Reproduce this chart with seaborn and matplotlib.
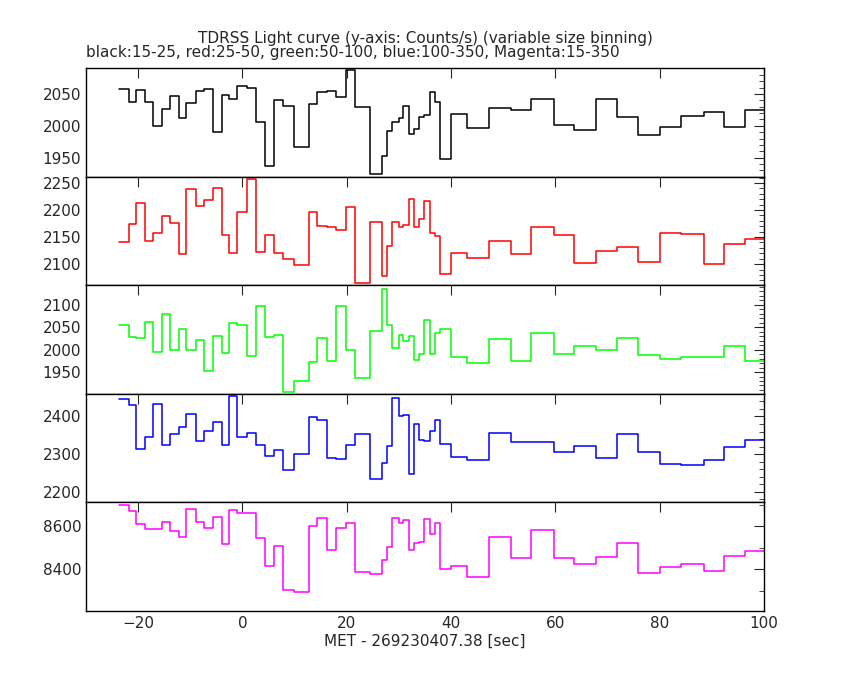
import matplotlib
matplotlib.use("Agg")
import matplotlib.pyplot as plt
import seaborn as sns
import pandas as pd
from matplotlib.ticker import MultipleLocator

edges = [-23.6,-21.8,-20.4,-18.6,-17.1,-15.5,-13.8,-12.2,-10.8,-9.0,-7.4,-5.7,-4.0,-2.5,-1.0,0.8,2.5,4.4,6.1,7.7,
         9.9,12.7,14.3,16.2,18.0,19.9,21.6,24.4,26.8,27.8,28.7,30.0,30.8,31.9,32.9,33.9,34.9,36.0,37.0,37.9,
         39.9,43.1,47.3,51.4,55.4,59.7,63.6,67.8,71.9,75.9,80.1,84.1,88.4,92.4,96.4,100.5]

black = [2057.8,2037.5,2056.3,2036.5,2000,2026.6,2046.9,2012.5,2035.9,2054.7,2057.8,1989.6,2048.4,2042.2,2062.5,
         2059.4,2005.2,1937.5,2040.6,2031.3,1967.2,2034.9,2053.1,2054.7,2045.3,2087.5,2029.7,1925,1953.1,1991.1,
         2006.3,2012.5,2031.3,1987.5,1995.3,2014.1,2017.2,2053.1,2036.5,1947.4,2017.7,
         1996.9,2028.1,2025,2042.2,2001.6,1993.8,2042.2,2014.1,1985.9,1998.4,2015.6,2021.9,1998.4,2025]
red = [2140.7,2174.1,2213.0,2142.6,2157.4,2189.5,2175.9,2119.1,2238.9,2207.4,2218.5,2241.4,2154.3,2121.0,2196.3,
       2257.4,2122.2,2153.7,2121.0,2109.3,2098.1,2196.3,2171.0,2168.5,2163.0,2206.2,2065.4,2177.8,2077.8,2133.3,
       2177.8,2169.1,2172.8,2220.4,2169.1,2183.3,2216.7,2157.4,2152.5,2082.1,2120.4,
       2111.1,2142.6,2118.5,2168.5,2153.7,2101.9,2124.1,2131.5,2103.7,2157.4,2156.2,2100,2137.0,2146.3]
green = [2055.2,2028.4,2026.1,2061.9,1994.8,2079.9,1999.3,2045.5,1999.3,2021.6,1952.2,2030.6,1992.5,2059.7,2055.2,
         1985.8,2097.8,2028.4,2032.8,1905.2,1929.9,1972.4,2026.1,1974.6,2097.8,1999.3,1936.6,2041.8,2135.8,2055.2,
         2003.7,2032.8,2019.4,2030.6,1976.9,1990.3,2066.4,1990.3,2037.3,2046.3,1983.6,
         1970.1,2023.9,1974.6,2037.3,1990.3,2008.2,1999.3,2026.1,1988.1,1979.1,1983.6,1983.6,2008.2,1974.6]
blue = [2446.7,2430.7,2313.3,2346.2,2433.3,2324.0,2353.3,2372.9,2406.7,2334.7,2361.3,2385.3,2324.0,2454.7,2346.2,
        2356.0,2324.9,2295.6,2310.7,2257.3,2300,2398.7,2390.7,2289.3,2286.7,2324.0,2353.3,2233.3,2276.0,2321.3,
        2449.3,2402.2,2404.0,2247.6,2380,2337.3,2334.7,2361.3,2390.7,2326.7,2292.0,
        2284,2356,2332,2332,2305.3,2321.3,2289.3,2353.3,2305.3,2274.2,2270.7,2284,2318.7,2337.3]
magenta = [8697.7,8669.8,8609.3,8586.0,8586.0,8618.6,8576.7,8548.8,8679.1,8618.6,8590.7,8641.9,8516.3,8674.4,8660.5,
           8660.5,8544.2,8414.0,8507.0,8302.3,8293.0,8600,8637.2,8488.4,8590.7,8614.0,8386.0,8376.7,8441.9,8502.3,
           8637.2,8614.0,8627.9,8488.4,8520.9,8525.6,8632.6,8562.8,8614.0,8400,8414.0,
           8362.8,8548.8,8451.2,8581.4,8451.2,8423.3,8455.8,8520.9,8381.4,8409.3,8423.3,8390.7,8460.5,8483.7]

series = [(black, "black", (1920.3, 2090.6), 50, 10),
          (red, "red", (2061.1, 2261.7), 50, 10),
          (green, "#00ff00", (1901.5, 2143.3), 50, 10),
          (blue, "blue", (2172, 2460), 100, 20),
          (magenta, "magenta", (8204.7, 8711.6), 200, 100)]

sns.set_style("white")
plt.rcParams['font.family'] = ['DejaVu Sans']
fig = plt.figure(figsize=(8.5, 6.8), dpi=100)
gs = fig.add_gridspec(5, 1, left=86/850, right=764/850, top=1-68/680, bottom=1-611/680, hspace=0)
for i, (vals, col, ylim, maj, mnr) in enumerate(series):
    ax = fig.add_subplot(gs[i])
    df = pd.DataFrame({"t": edges, "v": list(vals) + [vals[-1]]})
    sns.lineplot(data=df, x="t", y="v", ax=ax, color=col, drawstyle="steps-post", lw=1.1)
    ax.set_xlim(-30, 100)
    ax.set_ylim(*ylim)
    ax.yaxis.set_major_locator(MultipleLocator(maj))
    ax.yaxis.set_minor_locator(MultipleLocator(mnr))
    ax.xaxis.set_major_locator(MultipleLocator(20))
    ax.tick_params(which="both", direction="in", top=True, right=True, labelsize=11)
    ax.tick_params(which="major", length=7)
    ax.tick_params(which="minor", length=3.5)
    ax.set_ylabel("")
    for s in ax.spines.values():
        s.set_color("black"); s.set_linewidth(1)
    if i < 4:
        ax.set_xlabel("")
        ax.tick_params(labelbottom=False)
    else:
        ax.set_xlabel("MET - 269230407.38 [sec]", fontsize=11, labelpad=2)

fig.text(425/850, 1-38/680, "TDRSS Light curve (y-axis: Counts/s) (variable size binning)",
         ha="center", va="center", fontsize=11)
fig.text(86/850, 1-52/680, "black:15-25, red:25-50, green:50-100, blue:100-350, Magenta:15-350",
         ha="left", va="center", fontsize=11)
fig.savefig("out.png", dpi=100, facecolor="white")
